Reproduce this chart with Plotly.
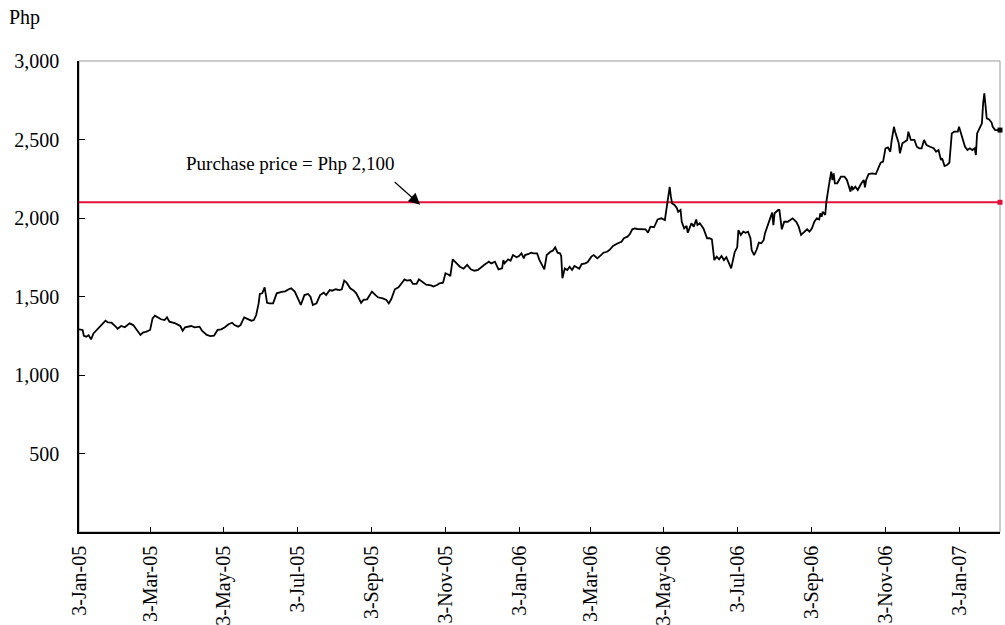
import pandas as pd
import plotly.graph_objects as go

# ---- data ----
start_date = "2005-01-03"
days_since_start = [
    0, 3, 4, 6, 8, 10, 12, 15, 17, 19, 22, 24, 27, 30, 32, 35, 38, 42, 45, 48,
    51, 53, 56, 59, 61, 63, 65, 68, 71, 73, 75, 80, 84, 86, 88, 91, 93, 96, 100, 102,
    106, 109, 112, 115, 118, 121, 124, 127, 129, 132, 134, 137, 140, 143, 145, 147, 149, 150, 152, 154,
    156, 158, 161, 164, 168, 171, 174, 176, 179, 182, 184, 187, 190, 192, 194, 197, 200, 203, 205, 208,
    210, 213, 216, 218, 220, 222, 225, 228, 230, 234, 236, 239, 243, 246, 248, 252, 255, 257, 259, 262,
    265, 268, 270, 272, 275, 277, 280, 282, 286, 288, 292, 294, 297, 299, 302, 304, 307, 308, 310, 313,
    316, 319, 322, 325, 328, 331, 334, 336, 338, 340, 342, 345, 348, 351, 352, 353, 356, 358, 360, 363,
    365, 367, 369, 370, 373, 375, 377, 380, 382, 384, 386, 388, 391, 393, 395, 397, 399, 400, 401, 403,
    405, 407, 409, 411, 413, 415, 417, 420, 422, 425, 427, 430, 433, 435, 438, 440, 443, 445, 447, 450,
    452, 455, 457, 459, 461, 463, 467, 470, 472, 474, 477, 480, 483, 486, 487, 489, 490, 491, 492, 494,
    496, 497, 499, 500, 502, 504, 505, 508, 510, 512, 513, 515, 518, 521, 523, 525, 527, 529, 531, 533,
    535, 537, 539, 541, 544, 546, 547, 549, 551, 553, 555, 557, 558, 560, 562, 564, 566, 568, 569, 571,
    573, 575, 576, 577, 580, 581, 583, 585, 588, 590, 592, 595, 597, 599, 602, 604, 606, 608, 610, 612,
    614, 615, 616, 617, 619, 620, 622, 624, 625, 626, 627, 629, 632, 635, 637, 638, 640, 641, 642, 644,
    646, 649, 651, 652, 653, 655, 658, 661, 663, 665, 667, 669, 671, 673, 674, 676, 677, 680, 681, 683,
    685, 687, 688, 690, 693, 695, 697, 699, 701, 703, 706, 709, 711, 713, 715, 716, 718, 720, 722, 724,
    726, 729, 730, 732, 733, 735, 737, 739, 741, 743, 744, 745, 747, 749, 750, 751, 753, 755, 757, 758,
    760, 762, 764,
]
price_php = [
    1291, 1287, 1250, 1244, 1253, 1227, 1265, 1291, 1304, 1325, 1346, 1335, 1333, 1312, 1295, 1312, 1304, 1329, 1318, 1287,
    1255, 1270, 1276, 1287, 1361, 1378, 1367, 1355, 1350, 1367, 1340, 1329, 1312, 1282, 1304, 1308, 1312, 1304, 1308, 1282,
    1255, 1248, 1250, 1287, 1291, 1304, 1323, 1333, 1318, 1308, 1318, 1367, 1355, 1346, 1350, 1382, 1456, 1516, 1520, 1558,
    1460, 1456, 1456, 1520, 1529, 1533, 1546, 1552, 1531, 1478, 1446, 1509, 1516, 1499, 1446, 1456, 1509, 1524, 1509, 1541,
    1537, 1546, 1541, 1546, 1601, 1588, 1552, 1537, 1520, 1460, 1478, 1482, 1531, 1509, 1495, 1488, 1478, 1456, 1482, 1546,
    1558, 1588, 1609, 1601, 1605, 1580, 1580, 1609, 1584, 1575, 1571, 1563, 1573, 1584, 1588, 1648, 1637, 1630, 1737, 1715,
    1690, 1677, 1701, 1673, 1664, 1669, 1690, 1701, 1711, 1722, 1711, 1722, 1673, 1679, 1732, 1711, 1737, 1728, 1764, 1750,
    1758, 1775, 1743, 1764, 1771, 1779, 1775, 1775, 1732, 1701, 1673, 1764, 1785, 1792, 1813, 1779, 1775, 1758, 1616, 1679,
    1669, 1690, 1669, 1694, 1686, 1677, 1707, 1711, 1720, 1754, 1764, 1743, 1764, 1779, 1785, 1796, 1822, 1828, 1839, 1849,
    1871, 1881, 1898, 1928, 1934, 1930, 1928, 1928, 1906, 1945, 1941, 1991, 1998, 1987, 2040, 2136, 2199, 2136, 2093, 2083,
    2062, 2040, 2051, 1976, 1934, 1949, 1906, 1966, 1945, 1991, 1955, 1966, 1934, 1871, 1871, 1864, 1732, 1754, 1737, 1758,
    1732, 1750, 1715, 1679, 1785, 1813, 1923, 1892, 1913, 1906, 1913, 1871, 1796, 1764, 1796, 1843, 1839, 1860, 1902, 1949,
    1991, 2034, 1955, 2030, 2051, 2051, 1928, 1976, 1976, 1987, 1998, 1976, 1945, 1892, 1913, 1928, 1913, 1934, 1976, 1998,
    1991, 2030, 2008, 2040, 2019, 2104, 2204, 2295, 2242, 2284, 2221, 2221, 2263, 2263, 2242, 2221, 2168, 2204, 2183, 2199,
    2178, 2221, 2242, 2195, 2242, 2280, 2284, 2280, 2316, 2352, 2359, 2444, 2450, 2422, 2486, 2581, 2550, 2476, 2412, 2476,
    2486, 2497, 2550, 2497, 2497, 2454, 2444, 2444, 2497, 2465, 2454, 2444, 2422, 2433, 2369, 2380, 2331, 2337, 2352, 2539,
    2550, 2550, 2581, 2529, 2497, 2454, 2433, 2444, 2433, 2444, 2401, 2539, 2571, 2603, 2730, 2794, 2635, 2628, 2608, 2581,
    2560, 2560, 2560,
]
assert len(days_since_start) == len(price_php)

purchase_price = 2100
tick_dates = ["2005-01-03", "2005-03-03", "2005-05-03", "2005-07-03", "2005-09-03", "2005-11-03",
              "2006-01-03", "2006-03-03", "2006-05-03", "2006-07-03", "2006-09-03", "2006-11-03",
              "2007-01-03"]
tick_labels = ["3-Jan-05", "3-Mar-05", "3-May-05", "3-Jul-05", "3-Sep-05", "3-Nov-05",
               "3-Jan-06", "3-Mar-06", "3-May-06", "3-Jul-06", "3-Sep-06", "3-Nov-06",
               "3-Jan-07"]
y_ticks = [500, 1000, 1500, 2000, 2500, 3000]
annotation_text = "Purchase price = Php 2,100"
arrow_day = 283
arrow_value = 2085

dates = pd.Timestamp(start_date) + pd.to_timedelta(days_since_start, unit="D")
x_end = dates[-1]
x_start = dates[0]

FONT = "Liberation Serif, Times New Roman, serif"
RED = "#E4103C"

fig = go.Figure()
fig.add_trace(go.Scatter(
    x=[x_start, x_end], y=[purchase_price, purchase_price], mode="lines",
    line=dict(color=RED, width=2), hoverinfo="skip", showlegend=False, cliponaxis=False))
fig.add_trace(go.Scatter(
    x=[x_end], y=[purchase_price], mode="markers",
    marker=dict(color=RED, size=5, symbol="square"), showlegend=False, cliponaxis=False))
fig.add_trace(go.Scatter(
    x=dates, y=price_php, mode="lines",
    line=dict(color="black", width=1.8), showlegend=False))
fig.add_trace(go.Scatter(
    x=[dates[-1]], y=[price_php[-1]], mode="markers",
    marker=dict(color="black", size=5, symbol="square"), showlegend=False, cliponaxis=False))

fig.add_shape(type="rect", xref="paper", yref="paper", x0=0, x1=1, y0=0, y1=1,
              line=dict(color="#9a9a9a", width=1), layer="below")

arrow_x = pd.Timestamp(start_date) + pd.Timedelta(days=arrow_day)
fig.add_annotation(x=arrow_x, y=arrow_value, xref="x", yref="y", text="",
                   showarrow=True, arrowhead=2, arrowsize=1.9, arrowwidth=1.2,
                   arrowcolor="black", ax=-27, ay=-24, axref="pixel", ayref="pixel")
fig.add_annotation(x=0.2296, y=0.7834, xref="paper", yref="paper",
                   text=annotation_text, showarrow=False,
                   font=dict(family=FONT, size=19, color="black"),
                   xanchor="center", yanchor="middle")
fig.add_annotation(x=-0.078, y=1.093, xref="paper", yref="paper", text="Php",
                   showarrow=False, font=dict(family=FONT, size=20, color="black"),
                   xanchor="left", yanchor="middle")

fig.update_layout(
    width=1005, height=625,
    margin=dict(l=79, r=5, t=61, b=93, autoexpand=False),
    paper_bgcolor="white", plot_bgcolor="white",
    font=dict(family=FONT, size=20, color="black"),
    showlegend=False,
)
fig.update_xaxes(
    type="date", range=[x_start, x_end], automargin=False,
    tickvals=pd.to_datetime(tick_dates), ticktext=tick_labels, tickangle=-90,
    ticks="inside", ticklen=5, tickcolor="black", tickwidth=1,
    showline=True, linecolor="black", linewidth=1.5,
    showgrid=False, zeroline=False, ticklabelstandoff=4,
    tickfont=dict(family=FONT, size=20, color="black"),
)
fig.update_yaxes(
    range=[0, 3000], tickvals=y_ticks, tickformat=",", automargin=False,
    ticks="inside", ticklen=6, tickcolor="black", tickwidth=1,
    showline=True, linecolor="black", linewidth=1.5,
    showgrid=False, zeroline=False, ticklabelstandoff=14,
    tickfont=dict(family=FONT, size=20, color="black"),
)

fig.write_html(
    "out.html",
    config={"displayModeBar": False},
    post_script="document.body.style.margin='0';document.body.style.overflow='hidden';",
)
